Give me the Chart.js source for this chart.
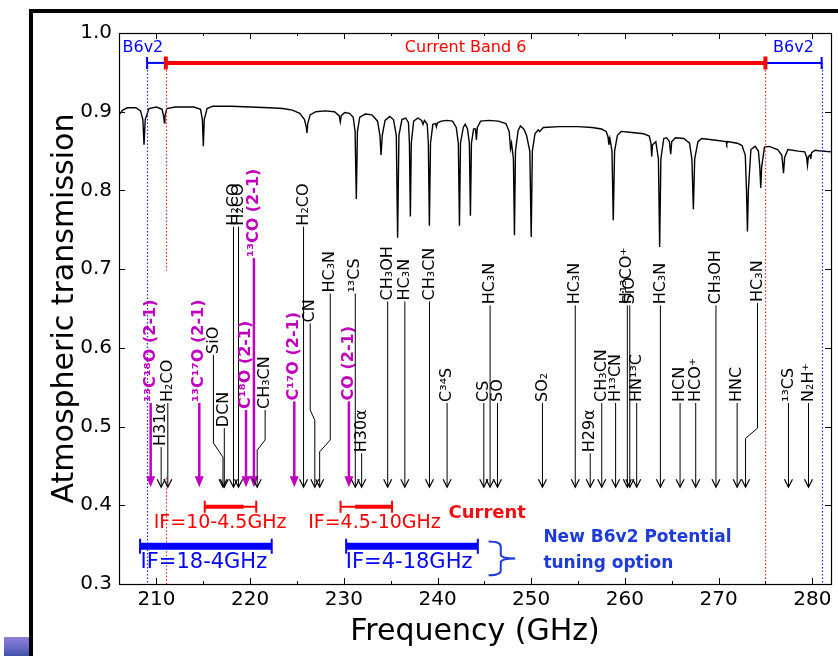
<!DOCTYPE html>
<html>
<head>
<meta charset="utf-8">
<script src="https://cdn.jsdelivr.net/npm/chart.js@4.4.0/dist/chart.umd.min.js"></script>
<style>
  html, body { margin: 0; padding: 0; background: #fff; }
  #wrap { position: relative; width: 838px; height: 656px; overflow: hidden; }
  #atm { display: block; }
  #frame { position: absolute; left: 29px; top: 9px; right: -10px; bottom: -10px;
           border-left: 4px solid #000; border-top: 4px solid #000; pointer-events: none; }
  #tab { position: absolute; left: 4px; top: 637px; width: 25px; height: 19px;
         background: linear-gradient(#8c80d8, #6a6ac8 55%, #3f4fa8); }
</style>
</head>
<body>
<div id="wrap">
  <canvas id="atm" width="838" height="656"></canvas>
  <div id="frame"></div>
  <div id="tab"></div>
</div>
<script>
// Band 6 atmospheric transmission, molecular line markers and IF coverage

const freqTicks = [210, 220, 230, 240, 250, 260, 270, 280];
const freqMinor = [215, 225, 235, 245, 255, 265, 275];
const transTicks = [0.3, 0.4, 0.5, 0.6, 0.7, 0.8, 0.9, 1.0];

// [GHz, transmission]
const transmission = [
  [206.0, 0.896], [206.4, 0.902], [206.9, 0.905], [207.8, 0.905], [208.3, 0.901], [208.55, 0.890],
  [208.67, 0.858], [208.8, 0.890], [209.2, 0.904], [210.0, 0.906], [210.6, 0.903], [210.78, 0.893],
  [210.84, 0.886], [210.9, 0.894], [211.1, 0.904], [212.0, 0.906], [214.0, 0.906], [214.7, 0.903],
  [214.9, 0.890], [215.0, 0.856], [215.1, 0.890], [215.4, 0.904], [216.0, 0.907], [218.0, 0.907],
  [220.0, 0.906], [222.0, 0.905], [223.5, 0.904], [224.5, 0.902], [225.3, 0.898], [225.8, 0.890],
  [226.0, 0.880], [226.06, 0.873], [226.15, 0.885], [226.4, 0.896], [227.0, 0.900], [228.0, 0.901],
  [229.0, 0.900], [229.5, 0.895], [229.62, 0.887], [229.72, 0.895], [230.1, 0.899], [230.6, 0.898],
  [231.0, 0.893], [231.2, 0.875], [231.33, 0.789], [231.45, 0.875], [231.7, 0.893], [232.3, 0.897],
  [233.0, 0.896], [233.6, 0.888], [233.85, 0.870], [233.97, 0.845], [234.1, 0.870], [234.4, 0.889],
  [234.9, 0.894], [235.3, 0.890], [235.6, 0.870], [235.74, 0.740], [235.88, 0.870], [236.2, 0.890],
  [236.6, 0.892], [236.9, 0.886], [237.0, 0.860], [237.1, 0.767], [237.2, 0.860], [237.45, 0.888],
  [237.9, 0.892], [238.3, 0.889], [238.45, 0.884], [238.6, 0.889], [238.9, 0.884], [239.02, 0.860],
  [239.13, 0.755], [239.25, 0.860], [239.5, 0.884], [239.8, 0.885], [239.88, 0.881], [240.0, 0.886],
  [240.4, 0.888], [241.0, 0.889], [241.6, 0.888], [242.0, 0.880], [242.22, 0.860], [242.34, 0.755],
  [242.45, 0.860], [242.75, 0.880], [242.95, 0.884], [243.2, 0.878], [243.4, 0.860], [243.51, 0.768],
  [243.62, 0.860], [243.85, 0.878], [244.05, 0.878], [244.15, 0.864], [244.25, 0.880], [244.6, 0.888],
  [245.5, 0.889], [246.5, 0.888], [247.3, 0.885], [247.65, 0.875], [247.79, 0.853], [247.9, 0.860],
  [248.1, 0.840], [248.21, 0.743], [248.32, 0.850], [248.6, 0.876], [248.85, 0.882], [249.2, 0.878],
  [249.5, 0.870], [249.85, 0.850], [250.0, 0.741], [250.12, 0.850], [250.4, 0.872], [250.75, 0.877],
  [250.9, 0.875], [251.3, 0.880], [253.0, 0.881], [255.0, 0.881], [256.5, 0.880], [257.5, 0.878],
  [258.0, 0.875], [258.2, 0.868], [258.29, 0.858], [258.4, 0.866], [258.62, 0.850], [258.76, 0.762],
  [258.9, 0.850], [259.2, 0.870], [259.6, 0.875], [260.5, 0.874], [262.0, 0.872], [262.6, 0.869],
  [262.78, 0.860], [262.86, 0.843], [262.95, 0.858], [263.3, 0.862], [263.58, 0.840], [263.71, 0.728],
  [263.84, 0.840], [264.15, 0.866], [264.45, 0.867], [264.75, 0.862], [264.89, 0.846], [265.0, 0.862],
  [265.4, 0.867], [266.3, 0.866], [266.9, 0.860], [267.15, 0.840], [267.31, 0.776], [267.45, 0.840],
  [267.8, 0.862], [268.2, 0.866], [269.5, 0.864], [270.8, 0.862], [270.87, 0.859], [270.95, 0.862],
  [272.0, 0.860], [272.5, 0.857], [272.85, 0.845], [272.98, 0.800], [273.08, 0.748], [273.18, 0.800],
  [273.45, 0.852], [273.9, 0.856], [274.25, 0.850], [274.4, 0.830], [274.5, 0.803], [274.6, 0.830],
  [274.9, 0.855], [275.4, 0.856], [276.3, 0.852], [276.75, 0.845], [276.93, 0.822], [277.05, 0.842],
  [277.4, 0.852], [278.5, 0.850], [279.2, 0.849], [279.4, 0.842], [279.49, 0.832], [279.58, 0.843],
  [279.76, 0.845], [279.84, 0.840], [279.93, 0.848], [280.3, 0.851], [281.0, 0.850], [282.0, 0.849]
];

// molecular lines: name, rest frequency (GHz), transmission level where the label starts
const lineNames = ['¹³C¹⁸O (2-1)', 'H31α', 'H₂CO', '¹³C¹⁷O (2-1)', 'SiO', 'DCN', 'H₂CO', 'H₂CO',
  'C¹⁸O (2-1)', '¹³CO (2-1)', 'CH₃CN', 'C¹⁷O (2-1)', 'H₂CO', 'CN', 'HC₃N', 'CO (2-1)', '¹³CS', 'H30α',
  'CH₃OH', 'HC₃N', 'CH₃CN', 'C³⁴S', 'CS', 'HC₃N', 'SO', 'SO₂', 'HC₃N', 'H29α', 'CH₃CN', 'H¹³CN',
  'H¹³CO⁺', 'SiO', 'HN¹³C', 'HC₃N', 'HCN', 'HCO⁺', 'CH₃OH', 'HNC', 'HC₃N', '¹³CS', 'N₂H⁺'];
const lineFreq = [209.38, 210.50, 211.21, 214.57, 217.10, 217.24, 218.22, 218.76,
  219.56, 220.40, 220.75, 224.71, 225.70, 226.90, 227.42, 230.54, 231.22, 231.90,
  234.68, 236.51, 239.14, 241.02, 244.94, 245.61, 246.40, 251.20, 254.70, 256.30, 257.53, 259.01,
  260.26, 260.52, 261.26, 263.79, 265.89, 267.56, 269.72, 271.98, 272.88, 277.46, 279.60];
const lineLabelY = [0.530, 0.474, 0.530, 0.530, 0.591, 0.498, 0.754, 0.754,
  0.521, 0.714, 0.521, 0.532, 0.754, 0.631, 0.669, 0.532, 0.669, 0.466,
  0.659, 0.659, 0.659, 0.530, 0.530, 0.654, 0.530, 0.530, 0.654, 0.466, 0.530, 0.530,
  0.654, 0.654, 0.530, 0.654, 0.530, 0.530, 0.654, 0.530, 0.657, 0.530, 0.530];
// CO isotopologue transitions
const coLines = [0, 3, 8, 9, 11, 15];
// leaders that jog sideways: [line index, label freq, upper bend, lower bend]
const leaderJogs = [
  [4, 216.08, 0.479, 0.461],
  [10, 221.60, 0.483, 0.470],
  [13, 226.41, 0.521, 0.508],
  [14, 228.55, 0.483, 0.468],
  [38, 274.15, 0.498, 0.485]
];
const arrowTip = 0.423;

// receiver coverage (GHz)
const band6 = [211, 275];
const b6v2Low = [209, 211];
const b6v2High = [275, 281];
const bandLevel = 0.962;
const ifCurrent = [[215.15, 220.65], [229.65, 235.15]];
const ifCurrentCore = [[215.15, 219.3], [231.2, 235.15]];
const ifNew = [[208.25, 222.3], [230.25, 244.3]];

const FONT = '"DejaVu Sans", "Liberation Sans", sans-serif';
const MAGENTA = '#bf00bf';

function upText(ctx, txt, px, py) {
  ctx.save();
  ctx.translate(px, py);
  ctx.rotate(-Math.PI / 2);
  ctx.textAlign = 'left';
  ctx.textBaseline = 'middle';
  ctx.fillText(txt, 0, 0);
  ctx.restore();
}

function rangeBar(ctx, x0, x1, py, lw, capH, capW, color) {
  ctx.strokeStyle = color;
  ctx.lineWidth = lw;
  ctx.beginPath(); ctx.moveTo(x0, py); ctx.lineTo(x1, py); ctx.stroke();
  ctx.lineWidth = capW;
  ctx.beginPath();
  ctx.moveTo(x0, py - capH / 2); ctx.lineTo(x0, py + capH / 2);
  ctx.moveTo(x1, py - capH / 2); ctx.lineTo(x1, py + capH / 2);
  ctx.stroke();
}

const overlay = {
  id: 'overlay',
  afterDatasetsDraw(chart) {
    const { ctx, scales: { x, y } } = chart;
    const X = v => x.getPixelForValue(v);
    const Y = v => y.getPixelForValue(v);
    ctx.save();

    // dotted band edges
    ctx.lineWidth = 1.2;
    ctx.setLineDash([1.5, 2]);
    const edges = [[b6v2Low[0], bandLevel, 0.3, '#2020ff'], [band6[0], bandLevel, 0.698, '#ff2020'],
                   [band6[0], 0.435, 0.3, '#ff2020'], [band6[1], bandLevel, 0.3, '#ff2020'],
                   [b6v2High[1], bandLevel, 0.3, '#2020ff']];
    for (const [f, t0, t1, c] of edges) {
      ctx.strokeStyle = c;
      ctx.beginPath(); ctx.moveTo(Math.round(X(f)) + 0.5, Y(t0)); ctx.lineTo(Math.round(X(f)) + 0.5, Y(t1)); ctx.stroke();
    }
    ctx.setLineDash([]);

    // band bars
    rangeBar(ctx, X(b6v2Low[0]), X(b6v2Low[1]), Y(bandLevel), 2, 12, 2, '#0000ff');
    rangeBar(ctx, X(b6v2High[0]), X(b6v2High[1]), Y(bandLevel), 2, 12, 2, '#0000ff');
    rangeBar(ctx, X(band6[0]), X(band6[1]), Y(bandLevel), 4, 13, 4, '#ff0000');
    ctx.font = '16px ' + FONT;
    ctx.textAlign = 'center';
    ctx.textBaseline = 'middle';
    ctx.fillStyle = '#ff0000';
    ctx.fillText('Current Band 6', X((band6[0] + band6[1]) / 2), Y(0.981));
    ctx.fillStyle = '#0000ff';
    ctx.fillText('B6v2', X(208.55), Y(0.981));
    ctx.fillText('B6v2', X((b6v2High[0] + b6v2High[1]) / 2), Y(0.981));

    // line markers
    const jog = {};
    for (const j of leaderJogs) jog[j[0]] = j;
    const tip = Y(arrowTip);
    lineNames.forEach((name, i) => {
      const co = coLines.includes(i);
      const color = co ? MAGENTA : '#000';
      const fx = X(lineFreq[i]);
      const top = Y(lineLabelY[i]);
      const j = jog[i];
      const lx = j ? X(j[1]) : fx;
      ctx.strokeStyle = color;
      ctx.fillStyle = color;
      ctx.lineWidth = co ? 2.5 : 1;
      ctx.beginPath();
      ctx.moveTo(lx, top);
      if (j) { ctx.lineTo(lx, Y(j[2])); ctx.lineTo(fx, Y(j[3])); }
      ctx.lineTo(fx, co ? tip - 6 : tip);
      ctx.stroke();
      if (co) {
        ctx.beginPath();
        ctx.moveTo(fx - 4.5, tip - 11); ctx.lineTo(fx + 4.5, tip - 11); ctx.lineTo(fx, tip);
        ctx.closePath(); ctx.fill();
      } else {
        ctx.lineWidth = 1.2;
        ctx.beginPath();
        ctx.moveTo(fx - 4, tip - 8); ctx.lineTo(fx, tip); ctx.lineTo(fx + 4, tip - 8);
        ctx.stroke();
      }
      ctx.font = (co ? 'bold ' : '') + '16px ' + FONT;
      upText(ctx, name, lx, top - 1);
    });

    // IF ranges
    ifCurrent.forEach((r, i) => {
      rangeBar(ctx, X(r[0]), X(r[1]), Y(0.398), 2, 12, 2, '#ff0000');
      const c = ifCurrentCore[i];
      ctx.lineWidth = 4;
      ctx.beginPath(); ctx.moveTo(X(c[0]), Y(0.398)); ctx.lineTo(X(c[1]), Y(0.398)); ctx.stroke();
    });
    ifNew.forEach(r => rangeBar(ctx, X(r[0]), X(r[1]), Y(0.348), 7, 15, 2, '#0000ff'));

    ctx.textAlign = 'center';
    ctx.textBaseline = 'middle';
    ctx.font = '19px ' + FONT;
    ctx.fillStyle = '#ff0000';
    ctx.fillText('IF=10-4.5GHz', X(216.79), Y(0.3775));
    ctx.fillText('IF=4.5-10GHz', X(233.27), Y(0.3775));
    ctx.font = '21px ' + FONT;
    ctx.fillStyle = '#0000ff';
    ctx.fillText('IF=18-4GHz', X(215.06), Y(0.327));
    ctx.fillText('IF=4-18GHz', X(236.97), Y(0.327));

    ctx.font = 'bold 18px ' + FONT;
    ctx.fillStyle = '#ee1111';
    ctx.fillText('Current', X(245.3), Y(0.390));
    ctx.textAlign = 'left';
    ctx.font = 'bold 17px ' + FONT;
    ctx.fillStyle = '#1d3bd6';
    ctx.fillText('New B6v2 Potential', X(251.3), Y(0.359));
    ctx.fillText('tuning option', X(251.3), Y(0.326));

    // brace grouping the new IF options
    const bx0 = X(245.45), bx1 = X(246.75), bx2 = X(248.3);
    const by0 = Y(0.354), bym = Y(0.3325), by1 = Y(0.311);
    ctx.strokeStyle = '#1d3bd6';
    ctx.lineWidth = 2;
    ctx.beginPath();
    ctx.moveTo(bx0, by0);
    ctx.quadraticCurveTo(bx1, by0, bx1, by0 + 5);
    ctx.lineTo(bx1, bym - 4);
    ctx.quadraticCurveTo(bx1, bym, bx2, bym);
    ctx.quadraticCurveTo(bx1, bym, bx1, bym + 4);
    ctx.lineTo(bx1, by1 - 5);
    ctx.quadraticCurveTo(bx1, by1, bx0, by1);
    ctx.stroke();

    ctx.restore();
  },
  afterDraw(chart) {
    const { ctx, chartArea: a, scales: { x, y } } = chart;
    ctx.save();
    ctx.strokeStyle = '#000';
    ctx.lineWidth = 1;
    ctx.beginPath();
    for (const v of freqTicks) {
      const px = Math.round(x.getPixelForValue(v)) + 0.5;
      ctx.moveTo(px, a.bottom); ctx.lineTo(px, a.bottom - 6);
      ctx.moveTo(px, a.top); ctx.lineTo(px, a.top + 6);
    }
    for (const v of freqMinor) {
      const px = Math.round(x.getPixelForValue(v)) + 0.5;
      ctx.moveTo(px, a.bottom); ctx.lineTo(px, a.bottom - 3);
      ctx.moveTo(px, a.top); ctx.lineTo(px, a.top + 3);
    }
    for (const v of transTicks) {
      const py = Math.round(y.getPixelForValue(v)) + 0.5;
      ctx.moveTo(a.left, py); ctx.lineTo(a.left + 6, py);
      ctx.moveTo(a.right, py); ctx.lineTo(a.right - 6, py);
    }
    ctx.stroke();
    ctx.lineWidth = 1.2;
    ctx.strokeRect(Math.round(a.left) + 0.5, Math.round(a.top) + 0.5,
                   Math.round(a.right - a.left), Math.round(a.bottom - a.top));
    ctx.restore();
  }
};

new Chart(document.getElementById('atm'), {
  type: 'scatter',
  data: {
    datasets: [{
      data: transmission.map(([f, t]) => ({ x: f, y: t })),
      showLine: true,
      borderColor: '#000',
      borderWidth: 1.4,
      pointRadius: 0,
      tension: 0
    }]
  },
  options: {
    responsive: false,
    animation: false,
    devicePixelRatio: 1,
    layout: { autoPadding: false, padding: { top: 33, right: 7, left: 0, bottom: 0 } },
    plugins: { legend: { display: false }, tooltip: { enabled: false } },
    scales: {
      x: {
        type: 'linear', min: 206, max: 282,
        afterBuildTicks: s => { s.ticks = freqTicks.map(v => ({ value: v })); },
        afterFit: s => { s.height = 72; },
        grid: { display: false, drawTicks: false }, border: { display: false },
        ticks: { padding: 4, color: '#000', font: { family: FONT, size: 20 }, callback: v => String(v) },
        title: { display: true, text: 'Frequency (GHz)', color: '#000',
                 font: { family: FONT, size: 30 }, padding: { top: 0, bottom: 6 } }
      },
      y: {
        type: 'linear', min: 0.3, max: 1.0,
        afterBuildTicks: s => { s.ticks = transTicks.map(v => ({ value: v })); },
        afterFit: s => { s.width = 119; },
        grid: { display: false, drawTicks: false }, border: { display: false },
        ticks: { padding: 7, color: '#000', font: { family: FONT, size: 20 }, callback: v => v.toFixed(1) },
        title: { display: true, text: 'Atmospheric transmission', color: '#000',
                 font: { family: FONT, size: 30 }, padding: { top: 47, bottom: 0 } }
      }
    }
  },
  plugins: [overlay]
});
</script>
</body>
</html>
